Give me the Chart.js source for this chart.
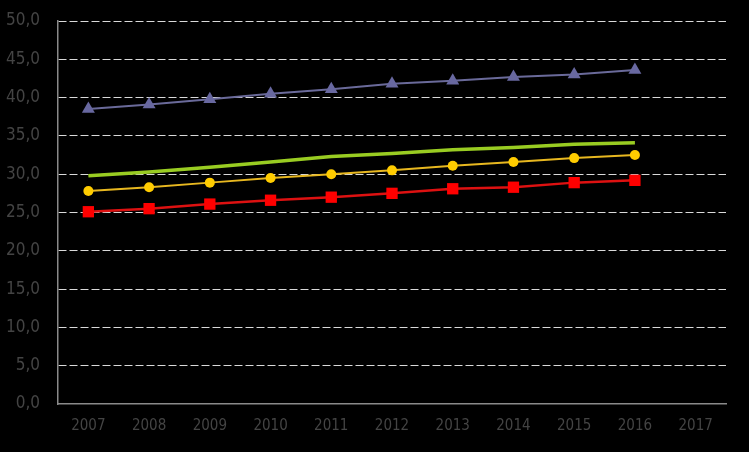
<!DOCTYPE html>
<html>
<head>
<meta charset="utf-8">
<script src="https://cdn.jsdelivr.net/npm/chart.js@4.4.1/dist/chart.umd.min.js"></script>
<style>
  html, body { margin: 0; padding: 0; background: #000; }
  #wrap { width: 749px; height: 452px; }
</style>
</head>
<body>
<div id="wrap"><canvas id="c"></canvas></div>
<script>
const categories = ['2007','2008','2009','2010','2011','2012','2013','2014','2015','2016','2017'];
const purpleSeries = [38.5, 39.1, 39.8, 40.5, 41.1, 41.8, 42.2, 42.7, 43.0, 43.6, null];
const greenSeries  = [29.8, 30.3, 30.9, 31.6, 32.3, 32.7, 33.2, 33.5, 33.9, 34.1, null];
const yellowSeries = [27.8, 28.3, 28.9, 29.5, 30.0, 30.5, 31.1, 31.6, 32.1, 32.5, null];
const redSeries    = [25.1, 25.5, 26.1, 26.6, 27.0, 27.5, 28.1, 28.3, 28.9, 29.2, null];
const yMin = 0, yMax = 50, yStep = 5;

const bg = {
  id: 'bg',
  beforeDraw(chart) {
    const ctx = chart.ctx;
    ctx.save();
    ctx.fillStyle = '#000';
    ctx.fillRect(0, 0, chart.width, chart.height);
    ctx.restore();
  }
};

const font = "'Liberation Sans Narrow', 'DejaVu Sans Condensed', 'Roboto', sans-serif";

new Chart(document.getElementById('c'), {
  type: 'line',
  data: {
    labels: categories,
    datasets: [
      { data: purpleSeries, borderColor: '#6A6A9A', backgroundColor: '#6868A0', borderWidth: 2,
        pointStyle: 'triangle', pointRadius: 7.5, pointBorderWidth: 0, tension: 0 },
      { data: greenSeries, borderColor: '#99CC22', backgroundColor: '#99CC22', borderWidth: 3.5,
        pointRadius: 0, tension: 0 },
      { data: yellowSeries, borderColor: '#E8B820', backgroundColor: '#FFCC00', borderWidth: 2,
        pointStyle: 'circle', pointRadius: 5, pointBorderWidth: 0, tension: 0 },
      { data: redSeries, borderColor: '#DD1111', backgroundColor: '#FF0000', borderWidth: 2.5,
        pointStyle: 'rect', pointRadius: 8, pointBorderWidth: 0, tension: 0 }
    ]
  },
  options: {
    responsive: true,
    maintainAspectRatio: false,
    animation: false,
    layout: { padding: { top: 21, right: 23, left: 0, bottom: 0 } },
    plugins: { legend: { display: false }, tooltip: { enabled: false } },
    scales: {
      x: {
        offset: true,
        grid: { display: false, drawTicks: false },
        border: { color: '#8A8A8A', width: 1.5 },
        ticks: { color: '#444444', font: { family: font, size: 15 }, padding: 13, maxRotation: 0 },
        afterFit(s) { s.height = 48; }
      },
      y: {
        min: yMin, max: yMax,
        grid: {
          color: (c) => c.tick && c.tick.value === 0 ? 'rgba(0,0,0,0)' : '#D9D9D9',
          lineWidth: 1, drawTicks: false
        },
        border: { color: '#8A8A8A', width: 1.5, dash: [8, 3] },
        ticks: {
          stepSize: yStep, color: '#444444', font: { family: font, size: 17 }, padding: 18,
          callback: (v) => v.toFixed(1).replace('.', ',')
        },
        afterFit(s) { s.width = 58; s.paddingTop = 0; s.paddingBottom = 0; }
      }
    }
  },
  plugins: [bg]
});
</script>
</body>
</html>
